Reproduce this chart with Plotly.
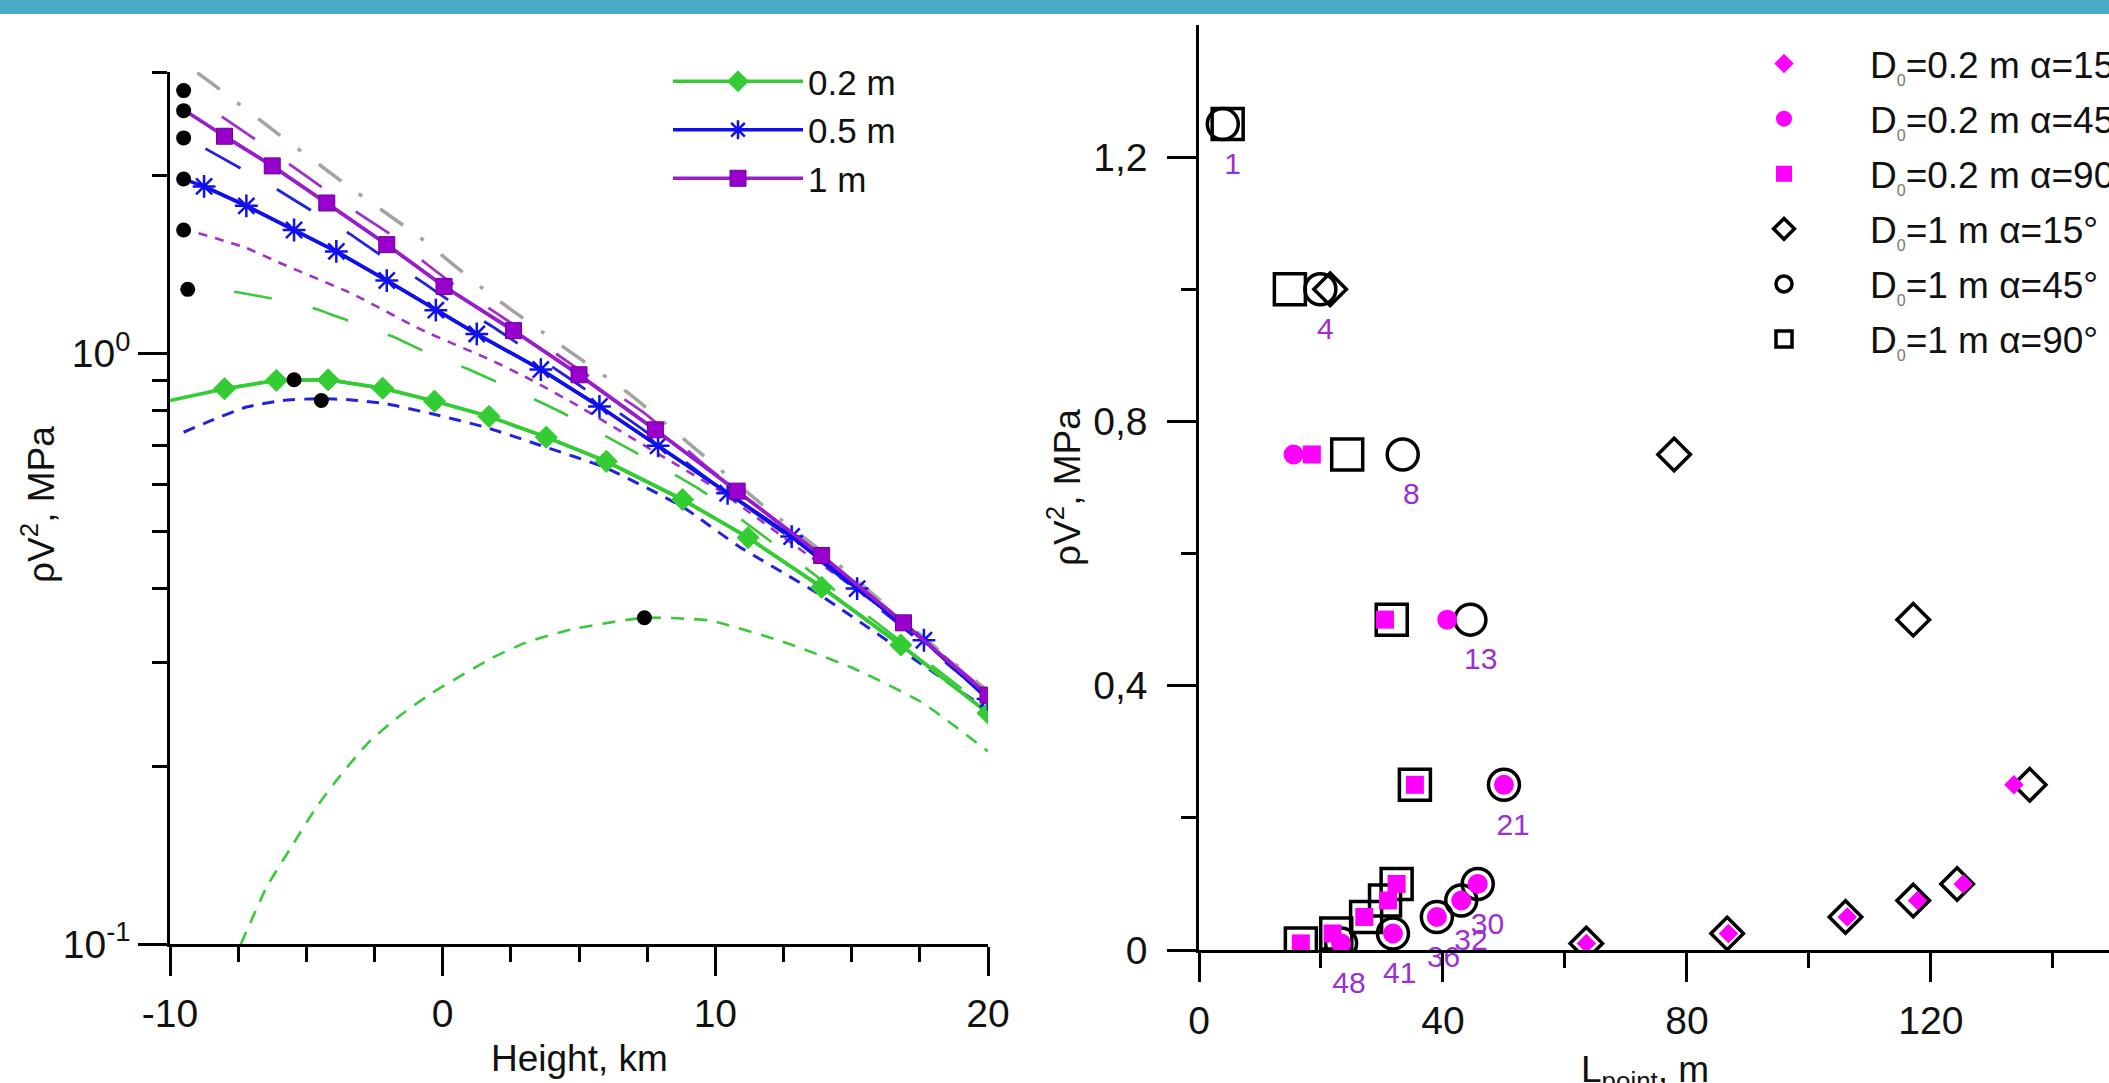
import plotly.graph_objects as go
import math

# ================= LEFT PANEL DATA (rhoV^2 vs height, log y) =================
# solid curves with markers
h_02 = [-10, -8.0, -6.1, -4.2, -2.2, -0.3, 1.7, 3.8, 6.0, 8.8, 11.2, 13.9, 16.8, 20.0]
p_02 = [0.833, 0.872, 0.901, 0.903, 0.874, 0.831, 0.783, 0.722, 0.657, 0.566, 0.488, 0.402, 0.321, 0.246]

h_05 = [-9.5, -8.75, -7.2, -5.45, -3.9, -2.05, -0.25, 1.25, 3.6, 5.75, 7.9, 10.45, 12.8, 15.2, 17.65, 20.0]
p_05 = [1.975, 1.92, 1.78, 1.62, 1.49, 1.33, 1.185, 1.08, 0.94, 0.814, 0.698, 0.58, 0.49, 0.40, 0.327, 0.26]

h_1 = [-9.5, -8.0, -6.25, -4.25, -2.05, 0.05, 2.6, 5.0, 7.8, 10.8, 13.9, 16.9, 20.0]
p_1 = [2.59, 2.335, 2.08, 1.80, 1.53, 1.30, 1.094, 0.921, 0.743, 0.585, 0.455, 0.35, 0.264]

# model curves (dashed)
h_gray = [-9.0, -8.6, -6.05, -3.45, -0.85, 1.65, 4.25, 6.8, 9.3, 11.8, 14.5, 17.0, 20.0]
p_gray = [2.99, 2.90, 2.36, 1.92, 1.575, 1.27, 1.04, 0.858, 0.688, 0.551, 0.44, 0.35, 0.268]

h_1_long = [-8.1, -6.9, -5.6, -4.4, -3.1, -1.9, -0.6, 0.5, 1.9, 3.1, 5.0, 7.4, 9.6, 12.6, 16.0, 20.0]
p_1_long = [2.52, 2.31, 2.09, 1.91, 1.73, 1.59, 1.42, 1.30, 1.177, 1.081, 0.94, 0.793, 0.648, 0.505, 0.38, 0.266]

h_05_long = [-8.7, -7.4, -6.05, -4.75, -3.45, -2.2, -0.85, 0.4, 1.75, 2.95, 5.0, 7.5, 10.0, 13.0, 16.5, 20.0]
p_05_long = [2.225, 2.06, 1.895, 1.74, 1.60, 1.46, 1.332, 1.216, 1.117, 1.026, 0.885, 0.735, 0.60, 0.478, 0.355, 0.262]

h_1_short = [-8.95, -7.2, -5.9, -3.35, -0.75, 1.8, 3.2, 5.0, 8.15, 10.1, 13.0, 16.5, 20.0]
p_1_short = [1.60, 1.51, 1.42, 1.265, 1.096, 0.974, 0.905, 0.814, 0.666, 0.588, 0.47, 0.36, 0.262]

h_02_long = [-7.65, -6.25, -4.7, -3.35, -1.85, -0.5, 0.9, 2.25, 4.3, 7.0, 9.55, 11.95, 14.3, 20.0]
p_02_long = [1.273, 1.24, 1.193, 1.132, 1.07, 1.0, 0.943, 0.884, 0.798, 0.683, 0.584, 0.484, 0.40, 0.25]

h_05_short = [-9.5, -8.5, -7.2, -5.9, -4.6, -3.35, -2.05, -0.4, 1.55, 3.6, 6.0, 8.8, 10.85, 13.7, 16.8, 20.0]
p_05_short = [0.736, 0.77, 0.812, 0.833, 0.839, 0.835, 0.822, 0.791, 0.751, 0.699, 0.64, 0.55, 0.472, 0.394, 0.315, 0.249]

h_02_short = [-7.4, -6.45, -5.55, -4.65, -3.75, -2.7, -1.55, -0.4, 1.8, 3.05, 4.7, 7.4, 9.8, 12.4, 15.0, 17.55, 20.0]
p_02_short = [0.1, 0.125, 0.146, 0.17, 0.193, 0.22, 0.244, 0.266, 0.305, 0.324, 0.341, 0.357, 0.353, 0.326, 0.294, 0.257, 0.212]

# black dots
h_dots = [-9.5, -9.5, -9.5, -9.5, -9.5, -9.35, -5.45, -4.45, 7.4]
p_dots = [2.79, 2.58, 2.32, 1.976, 1.62, 1.285, 0.903, 0.833, 0.357]

# left axis ticks
left_x_ticks = [-10, 0, 10, 20]
left_x_ticktext = ["-10", "0", "10", "20"]
left_x_minor = [-7.5, -5, -2.5, 2.5, 5, 7.5, 12.5, 15, 17.5]
left_y_ticks = [0.1, 1]
left_y_ticktext = ["10<sup>-1</sup>", "10<sup>0</sup>"]
left_y_minor = [0.2, 0.3, 0.4, 0.5, 0.6, 0.7, 0.8, 0.9, 2, 3]

# ================= RIGHT PANEL DATA (rhoV^2 vs L_point) =================
x_02_15 = [63.5, 86.8, 106.3, 117.8, 125.3, 133.6]
y_02_15 = [0.01, 0.025, 0.05, 0.075, 0.1, 0.25]
x_02_45 = [15.5, 40.7, 50.0, 45.7, 43.0, 39.0, 31.8, 23.3]
y_02_45 = [0.75, 0.5, 0.25, 0.1, 0.075, 0.05, 0.025, 0.01]
x_02_90 = [18.5, 30.5, 35.4, 32.4, 31.0, 27.1, 21.9, 16.7]
y_02_90 = [0.75, 0.5, 0.25, 0.1, 0.075, 0.05, 0.025, 0.01]
x_1_15 = [21.5, 77.9, 117.1, 136.2, 124.3, 117.1, 106.0, 86.6, 63.5]
y_1_15 = [1.0, 0.75, 0.5, 0.25, 0.1, 0.075, 0.05, 0.025, 0.01]
x_1_45 = [3.9, 19.9, 33.4, 44.5, 50.0, 45.7, 43.0, 39.0, 31.8, 23.3]
y_1_45 = [1.25, 1.0, 0.75, 0.5, 0.25, 0.1, 0.075, 0.05, 0.025, 0.01]
x_1_90 = [4.7, 14.9, 24.3, 31.6, 35.4, 32.4, 30.5, 27.4, 22.5, 16.7]
y_1_90 = [1.25, 1.0, 0.75, 0.5, 0.25, 0.1, 0.075, 0.05, 0.025, 0.01]

# point-number labels, hung below the pressure level of each point
point_labels = ["1", "4", "8", "13", "21", "30", "32", "36", "41", "48"]
label_x = [5.5, 20.7, 34.8, 46.2, 51.5, 47.3, 44.6, 40.1, 32.9, 24.6]
label_level = [1.25, 1.0, 0.75, 0.5, 0.25, 0.1, 0.075, 0.05, 0.025, 0.01]

right_x_ticks = [0, 40, 80, 120, 160]
right_x_minor = [20, 60, 100, 140]
right_y_ticks = [0, 0.4, 0.8, 1.2]
right_y_ticktext = ["0", "0,4", "0,8", "1,2"]
right_y_minor = [0.2, 0.6, 1.0]

# ================= STYLE =================
W, H = 2109, 1083
FONT = "Liberation Sans, Arial, sans-serif"
FS = 35       # legend
TFS = 39      # tick labels
GREEN = "#33cc33"
BLUE = "#1010ee"
PURPLE = "#9a1ccc"
PURPLE_M = "#9900cc"
GRAY = "#a3a3a3"
MAGENTA = "#ff00ff"
LABEL = "#9a30d0"
SUB0 = "<sub><span style='font-size:16px;color:#777'>0</span></sub>"

fig = go.Figure()

def dashed(x, y, color, dash, width=3.0):
    fig.add_trace(go.Scatter(x=x, y=y, mode="lines", showlegend=False, hoverinfo="skip",
                             line=dict(color=color, width=width, dash=dash, shape="spline", smoothing=0.5),
                             xaxis="x", yaxis="y"))

dashed(h_02_short, p_02_short, "#3cc83c", "13px,10px", 2.6)
dashed(h_05_short, p_05_short, "#2222dd", "12px,9px", 3.0)
dashed(h_02_long, p_02_long, "#3cc83c", "38px,42px", 2.6)
dashed(h_1_short, p_1_short, "#a030c8", "9px,8px", 2.6)
dashed(h_05_long, p_05_long, "#2222dd", "40px,42px", 2.8)
dashed(h_1_long, p_1_long, "#a030c8", "40px,42px", 2.8)
dashed(h_gray, p_gray, GRAY, "28px,22px,4px,22px", 3.5)

# solid lines (full extent)
for hx, py, col in [(h_02, p_02, GREEN), (h_05, p_05, BLUE), (h_1, p_1, PURPLE)]:
    fig.add_trace(go.Scatter(x=hx, y=py, mode="lines", showlegend=False, hoverinfo="skip",
                             line=dict(color=col, width=3.5), xaxis="x", yaxis="y"))

# lines + markers (legend entries)
fig.add_trace(go.Scatter(x=h_02[1:], y=p_02[1:], mode="lines+markers", name="0.2 m", legend="legend",
                         line=dict(color=GREEN, width=3.5),
                         marker=dict(symbol="diamond", size=17, color=GREEN, line=dict(color=GREEN, width=1)),
                         xaxis="x", yaxis="y"))
fig.add_trace(go.Scatter(x=h_05[1:], y=p_05[1:], mode="lines+markers", name="0.5 m", legend="legend",
                         line=dict(color=BLUE, width=3.5),
                         marker=dict(symbol="asterisk-open", size=19, color=BLUE, line=dict(color=BLUE, width=2.5)),
                         xaxis="x", yaxis="y"))
fig.add_trace(go.Scatter(x=h_1[1:], y=p_1[1:], mode="lines+markers", name="1 m", legend="legend",
                         line=dict(color=PURPLE, width=3.5),
                         marker=dict(symbol="square", size=16, color=PURPLE_M, line=dict(color="#6a0099", width=1)),
                         xaxis="x", yaxis="y"))

fig.add_trace(go.Scatter(x=h_dots, y=p_dots, mode="markers", showlegend=False, hoverinfo="skip",
                         marker=dict(symbol="circle", size=15, color="black"), xaxis="x", yaxis="y"))

# ---------------- right panel traces ----------------
open_line = dict(color="black", width=3.5)
fig.add_trace(go.Scatter(x=x_1_15, y=y_1_15, mode="markers", name="D" + SUB0 + "=1 m α=15°", legend="legend2",
                         legendrank=4, legendgroup="g4",
                         marker=dict(symbol="diamond-open", size=25, color="black", line=open_line),
                         xaxis="x2", yaxis="y2"))
fig.add_trace(go.Scatter(x=x_1_45, y=y_1_45, mode="markers", name="D" + SUB0 + "=1 m α=45°", legend="legend2",
                         legendrank=5, legendgroup="g5",
                         marker=dict(symbol="circle-open", size=31, color="black", line=open_line),
                         xaxis="x2", yaxis="y2"))
fig.add_trace(go.Scatter(x=x_1_90, y=y_1_90, mode="markers", name="D" + SUB0 + "=1 m α=90°", legend="legend2",
                         legendrank=6, legendgroup="g6",
                         marker=dict(symbol="square-open", size=31, color="black", line=open_line),
                         xaxis="x2", yaxis="y2"))
fig.add_trace(go.Scatter(x=x_02_15, y=y_02_15, mode="markers", name="D" + SUB0 + "=0.2 m α=15°", legend="legend2",
                         legendrank=1, legendgroup="g1",
                         marker=dict(symbol="diamond", size=15, color=MAGENTA),
                         xaxis="x2", yaxis="y2"))
fig.add_trace(go.Scatter(x=x_02_45, y=y_02_45, mode="markers", name="D" + SUB0 + "=0.2 m α=45°", legend="legend2",
                         legendrank=2, legendgroup="g2",
                         marker=dict(symbol="circle", size=20, color=MAGENTA),
                         xaxis="x2", yaxis="y2"))
fig.add_trace(go.Scatter(x=x_02_90, y=y_02_90, mode="markers", name="D" + SUB0 + "=0.2 m α=90°", legend="legend2",
                         legendrank=3, legendgroup="g3",
                         marker=dict(symbol="square", size=18, color=MAGENTA),
                         xaxis="x2", yaxis="y2"))
fig.add_trace(go.Scatter(x=label_x, y=label_level, mode="markers+text", text=point_labels, showlegend=False,
                         textposition="bottom center",
                         marker=dict(size=42, opacity=0, color="white"),
                         textfont=dict(family=FONT, size=30, color=LABEL), hoverinfo="skip",
                         cliponaxis=False, xaxis="x2", yaxis="y2"))

# ================= LAYOUT =================
def px_x(p):
    return p / W

def px_y(p):
    return 1 - p / H

axis_common = dict(showline=True, linecolor="black", linewidth=2.5, ticks="outside", ticklen=29,
                   tickwidth=2.5, tickcolor="black", showgrid=False, zeroline=False,
                   tickfont=dict(family=FONT, size=TFS, color="#111"))

fig.update_layout(
    width=W, height=H,
    margin=dict(l=0, r=0, t=0, b=0, autoexpand=False),
    paper_bgcolor="white", plot_bgcolor="white",
    font=dict(family=FONT, size=FS, color="#111"),
    xaxis=dict(domain=[px_x(170), px_x(988)], range=[-10, 20], anchor="y",
               tickmode="array", tickvals=left_x_ticks, ticktext=left_x_ticktext, ticklabelstandoff=4,
               minor=dict(tickmode="array", tickvals=left_x_minor, ticks="outside", ticklen=15,
                          tickwidth=2.5, tickcolor="black"),
               **axis_common),
    yaxis=dict(domain=[px_y(944), px_y(72)], type="log", range=[-1, math.log10(3)], anchor="x",
               tickmode="array", tickvals=left_y_ticks, ticktext=left_y_ticktext, ticklabelstandoff=0,
               minor=dict(tickmode="array", tickvals=left_y_minor, ticks="outside", ticklen=15,
                          tickwidth=2.5, tickcolor="black"),
               **axis_common),
    xaxis2=dict(domain=[px_x(1199), 1.0], range=[0, 149.2], anchor="y2",
                tickmode="array", tickvals=right_x_ticks, ticklabelstandoff=5,
                minor=dict(tickmode="array", tickvals=right_x_minor, ticks="outside", ticklen=15,
                           tickwidth=2.5, tickcolor="black"),
                **axis_common),
    yaxis2=dict(domain=[px_y(950), px_y(25)], range=[0, 1.4], anchor="x2",
                tickmode="array", tickvals=right_y_ticks, ticktext=right_y_ticktext, ticklabelstandoff=12,
                minor=dict(tickmode="array", tickvals=right_y_minor, ticks="outside", ticklen=15,
                           tickwidth=2.5, tickcolor="black"),
                **axis_common),
    legend=dict(x=px_x(668), y=px_y(52), xanchor="left", yanchor="top", bgcolor="rgba(0,0,0,0)",
                font=dict(family=FONT, size=FS, color="#111"), itemwidth=130, traceorder="normal",
                borderwidth=0),
    legend2=dict(x=px_x(1698), y=px_y(33), xanchor="left", yanchor="top", bgcolor="rgba(0,0,0,0)",
                 font=dict(family=FONT, size=37, color="#111"), itemwidth=162, traceorder="grouped",
                 tracegroupgap=4, borderwidth=0),
    shapes=[dict(type="rect", xref="paper", yref="paper", x0=0, x1=1, y0=px_y(14), y1=1,
                 fillcolor="#4aabc6", line=dict(width=0), layer="above")],
    annotations=[
        dict(text="ρV<sup>2</sup>, MPa", xref="paper", yref="paper", x=px_x(38), y=px_y(505),
             textangle=-90, showarrow=False, xanchor="center", yanchor="middle",
             font=dict(family=FONT, size=37, color="#111")),
        dict(text="ρV<sup>2</sup>, MPa", xref="paper", yref="paper", x=px_x(1064), y=px_y(488),
             textangle=-90, showarrow=False, xanchor="center", yanchor="middle",
             font=dict(family=FONT, size=37, color="#111")),
        dict(text="Height, km", xref="paper", yref="paper", x=px_x(579), y=px_y(1058),
             showarrow=False, xanchor="center", yanchor="middle",
             font=dict(family=FONT, size=37, color="#111")),
        dict(text="L<sub>point</sub>, m", xref="paper", yref="paper", x=px_x(1645), y=px_y(1072),
             showarrow=False, xanchor="center", yanchor="middle",
             font=dict(family=FONT, size=37, color="#111")),
    ],
)

fig.write_html("out.html", config={"displayModeBar": False},
               post_script="document.body.style.margin='0px';document.body.style.overflow='hidden';")
